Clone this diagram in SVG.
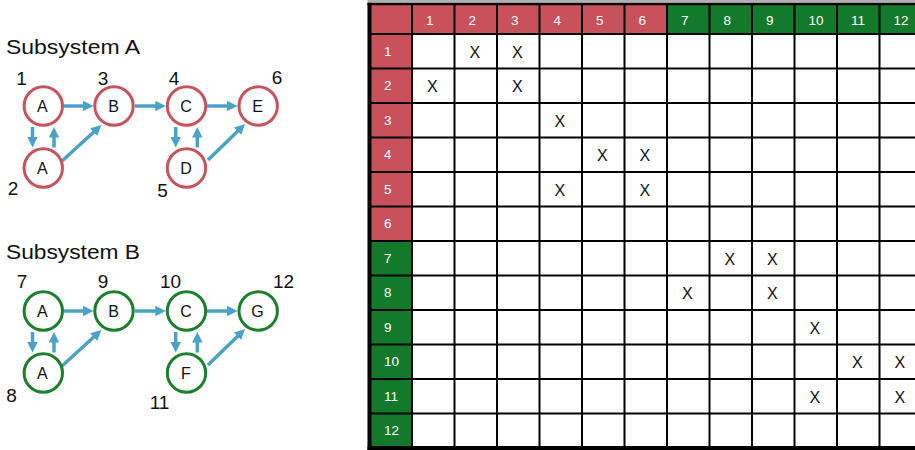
<svg xmlns="http://www.w3.org/2000/svg" width="915" height="450" viewBox="0 0 915 450">
<style>
.lbl{font-family:"Liberation Sans",Arial,sans-serif;fill:#111}
.title{font-size:20px}
.num{font-size:19px;text-anchor:middle}
.nt{font-size:16px;text-anchor:middle}
.nr{fill:#fff;stroke:#c9535c;stroke-width:3}
.ng{fill:#fff;stroke:#1b7f2b;stroke-width:3}
.ar{stroke:#4aa3c6;stroke-width:3.5;fill:none;marker-end:url(#ah)}
.hr{fill:#c8525c}
.hg{fill:#147a2b}
.ht{font-family:"Liberation Sans",Arial,sans-serif;font-size:13.5px;fill:#fff}
.gl{stroke:#000;stroke-width:2}
.x{font-family:"Liberation Sans",Arial,sans-serif;font-size:16px;fill:#111;text-anchor:middle}
</style>
<defs>
<marker id="ah" viewBox="0 0 10 10" refX="4" refY="5" markerWidth="3" markerHeight="3" orient="auto" markerUnits="strokeWidth">
<path d="M0,0 L10,5 L0,10 z" fill="#4aa3c6"/>
</marker>
</defs>
<rect width="915" height="450" fill="#fff"/>

<!-- Subsystem A -->
<text class="lbl title" x="6" y="53.5" textLength="134" lengthAdjust="spacingAndGlyphs">Subsystem A</text>
<g id="connectorsA">
<line class="ar" x1="64" y1="106" x2="87.2" y2="106"/>
<line class="ar" x1="135" y1="106" x2="159.5" y2="106"/>
<line class="ar" x1="207" y1="106" x2="231.2" y2="106"/>
<line class="ar" x1="32.5" y1="127" x2="32.5" y2="141.2"/>
<line class="ar" x1="54" y1="147.5" x2="54" y2="133.3"/>
<line class="ar" x1="62" y1="161" x2="96.8" y2="129.2"/>
<line class="ar" x1="175.7" y1="127" x2="175.7" y2="141.2"/>
<line class="ar" x1="197.3" y1="147.5" x2="197.3" y2="133.3"/>
<line class="ar" x1="208" y1="160" x2="240.5" y2="128.4"/>
</g>
<g id="nA1"><circle class="nr" cx="43.3" cy="106" r="19.2"/><text class="lbl nt" x="42.3" y="111.8">A</text><text class="lbl num" x="21.5" y="85">1</text></g>
<g id="nA2"><circle class="nr" cx="43.3" cy="168" r="19.2"/><text class="lbl nt" x="42.3" y="173.8">A</text><text class="lbl num" x="13" y="195">2</text></g>
<g id="nB3"><circle class="nr" cx="114" cy="106" r="19.2"/><text class="lbl nt" x="113.5" y="111.8">B</text><text class="lbl num" x="103" y="85">3</text></g>
<g id="nC4"><circle class="nr" cx="186.5" cy="106" r="19.2"/><text class="lbl nt" x="186" y="111.8">C</text><text class="lbl num" x="174" y="85">4</text></g>
<g id="nD5"><circle class="nr" cx="186.5" cy="168" r="19.2"/><text class="lbl nt" x="186" y="173.8">D</text><text class="lbl num" x="162.5" y="197">5</text></g>
<g id="nE6"><circle class="nr" cx="258.2" cy="106" r="19.2"/><text class="lbl nt" x="257.5" y="111.8">E</text><text class="lbl num" x="277" y="84">6</text></g>

<!-- Subsystem B -->
<text class="lbl title" x="6" y="258.5" textLength="134" lengthAdjust="spacingAndGlyphs">Subsystem B</text>
<g id="connectorsB" transform="translate(0,205)">
<line class="ar" x1="64" y1="106" x2="87.2" y2="106"/>
<line class="ar" x1="135" y1="106" x2="159.5" y2="106"/>
<line class="ar" x1="207" y1="106" x2="231.2" y2="106"/>
<line class="ar" x1="32.5" y1="127" x2="32.5" y2="141.2"/>
<line class="ar" x1="54" y1="147.5" x2="54" y2="133.3"/>
<line class="ar" x1="62" y1="161" x2="96.8" y2="129.2"/>
<line class="ar" x1="175.7" y1="127" x2="175.7" y2="141.2"/>
<line class="ar" x1="197.3" y1="147.5" x2="197.3" y2="133.3"/>
<line class="ar" x1="208" y1="160" x2="240.5" y2="128.4"/>
</g>
<g id="nA7"><circle class="ng" cx="43.3" cy="311" r="19.2"/><text class="lbl nt" x="42.3" y="316.8">A</text><text class="lbl num" x="22" y="288">7</text></g>
<g id="nA8"><circle class="ng" cx="43.3" cy="373" r="19.2"/><text class="lbl nt" x="42.3" y="378.8">A</text><text class="lbl num" x="11.5" y="401.5">8</text></g>
<g id="nB9"><circle class="ng" cx="114" cy="311" r="19.2"/><text class="lbl nt" x="113.5" y="316.8">B</text><text class="lbl num" x="103" y="288">9</text></g>
<g id="nC10"><circle class="ng" cx="186.5" cy="311" r="19.2"/><text class="lbl nt" x="186" y="316.8">C</text><text class="lbl num" x="170.5" y="288">10</text></g>
<g id="nF11"><circle class="ng" cx="186.5" cy="373" r="19.2"/><text class="lbl nt" x="186" y="378.8">F</text><text class="lbl num" x="159.5" y="409">11</text></g>
<g id="nG12"><circle class="ng" cx="258.2" cy="311" r="19.2"/><text class="lbl nt" x="257.5" y="316.8">G</text><text class="lbl num" x="283.5" y="288">12</text></g>

<!-- Matrix -->
<g id="matrix">
<rect class="hr" x="369.5" y="4" width="42.5" height="30"/>
<rect class="hr" x="412" y="4" width="255" height="30"/>
<rect class="hg" x="667" y="4" width="255" height="30"/>
<rect class="hr" x="369.5" y="34" width="42.5" height="207"/>
<rect class="hg" x="369.5" y="241" width="42.5" height="207"/>
<g class="ht">
<text x="426" y="25">1</text><text x="468.5" y="25">2</text><text x="511" y="25">3</text><text x="553.5" y="25">4</text><text x="596" y="25">5</text><text x="638.5" y="25">6</text>
<text x="681" y="25">7</text><text x="723.5" y="25">8</text><text x="766" y="25">9</text><text x="808.5" y="25">10</text><text x="851" y="25">11</text><text x="893.5" y="25">12</text>
<text x="384" y="55.75">1</text><text x="384" y="90.25">2</text><text x="384" y="124.75">3</text><text x="384" y="159.25">4</text><text x="384" y="193.75">5</text><text x="384" y="228.25">6</text>
<text x="384" y="262.75">7</text><text x="384" y="297.25">8</text><text x="384" y="331.75">9</text><text x="384" y="366.25">10</text><text x="384" y="400.75">11</text><text x="384" y="435.25">12</text>
</g>
<g class="gl">
<line x1="412" y1="4" x2="412" y2="448"/><line x1="454.5" y1="4" x2="454.5" y2="448"/><line x1="497" y1="4" x2="497" y2="448"/><line x1="539.5" y1="4" x2="539.5" y2="448"/><line x1="582" y1="4" x2="582" y2="448"/><line x1="624.5" y1="4" x2="624.5" y2="448"/><line x1="667" y1="4" x2="667" y2="448"/><line x1="709.5" y1="4" x2="709.5" y2="448"/><line x1="752" y1="4" x2="752" y2="448"/><line x1="794.5" y1="4" x2="794.5" y2="448"/><line x1="837" y1="4" x2="837" y2="448"/><line x1="879.5" y1="4" x2="879.5" y2="448"/>
<line x1="369.5" y1="34" x2="915" y2="34"/><line x1="369.5" y1="68.5" x2="915" y2="68.5"/><line x1="369.5" y1="103" x2="915" y2="103"/><line x1="369.5" y1="137.5" x2="915" y2="137.5"/><line x1="369.5" y1="172" x2="915" y2="172"/><line x1="369.5" y1="206.5" x2="915" y2="206.5"/><line x1="369.5" y1="241" x2="915" y2="241"/><line x1="369.5" y1="275.5" x2="915" y2="275.5"/><line x1="369.5" y1="310" x2="915" y2="310"/><line x1="369.5" y1="344.5" x2="915" y2="344.5"/><line x1="369.5" y1="379" x2="915" y2="379"/><line x1="369.5" y1="413.5" x2="915" y2="413.5"/>
</g>
<line x1="367.5" y1="1.3" x2="915" y2="1.3" stroke="#b0b0b0" stroke-width="2.6"/>
<line x1="367.5" y1="4" x2="915" y2="4" stroke="#000" stroke-width="2.6"/>
<line x1="367.5" y1="448" x2="915" y2="448" stroke="#000" stroke-width="4"/>
<line x1="369.5" y1="2.7" x2="369.5" y2="450" stroke="#000" stroke-width="4"/>
<g>
<text class="x" x="474.75" y="57.75">X</text><text class="x" x="517.25" y="57.75">X</text>
<text class="x" x="432.25" y="92.25">X</text><text class="x" x="517.25" y="92.25">X</text>
<text class="x" x="559.75" y="126.75">X</text>
<text class="x" x="602.25" y="161.25">X</text><text class="x" x="644.75" y="161.25">X</text>
<text class="x" x="559.75" y="195.75">X</text><text class="x" x="644.75" y="195.75">X</text>
<text class="x" x="729.75" y="264.75">X</text><text class="x" x="772.25" y="264.75">X</text>
<text class="x" x="687.25" y="299.25">X</text><text class="x" x="772.25" y="299.25">X</text>
<text class="x" x="814.75" y="333.75">X</text>
<text class="x" x="857.25" y="368.25">X</text><text class="x" x="899.75" y="368.25">X</text>
<text class="x" x="814.75" y="402.75">X</text><text class="x" x="899.75" y="402.75">X</text>
</g>
</g>
</svg>
